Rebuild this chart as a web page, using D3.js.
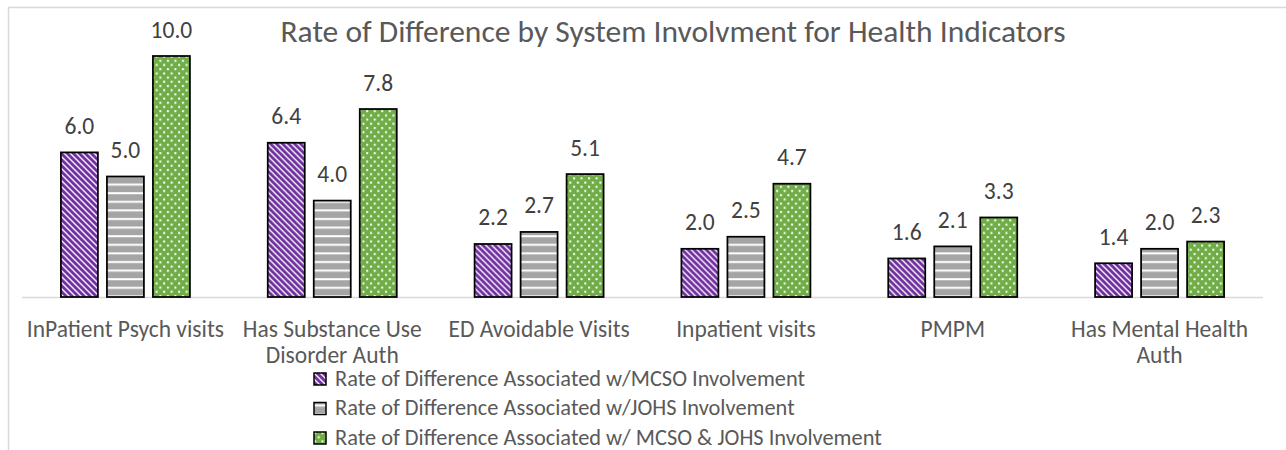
<!DOCTYPE html>
<html>
<head>
<meta charset="utf-8">
<script src="https://cdn.jsdelivr.net/npm/d3@7"></script>
<style>
  body { margin: 0; background: #fff; }
  text { font-family: Calibri, Carlito, Lato, sans-serif; }
</style>
</head>
<body>
<script>
const width = 1286;
const height = 450;

// data
const categories = ["InPatient Psych visits", "Has Substance Use Disorder Auth", "ED Avoidable Visits",
  "Inpatient visits", "PMPM", "Has Mental Health Auth"];
const seriesNames = [
  "Rate of Difference Associated w/MCSO Involvement",
  "Rate of Difference Associated w/JOHS Involvement",
  "Rate of Difference Associated w/ MCSO & JOHS Involvement"
];
const mcso = [6.0, 6.4, 2.2, 2.0, 1.6, 1.4];
const johs = [5.0, 4.0, 2.7, 2.5, 2.1, 2.0];
const both = [10.0, 7.8, 5.1, 4.7, 3.3, 2.3];
const seriesValues = [mcso, johs, both];

const svg = d3.select("body").append("svg")
  .attr("width", width)
  .attr("height", height);

const defs = svg.append("defs");

// fill patterns like the excel ones
const purple = defs.append("pattern").attr("id", "p0")
  .attr("patternUnits", "userSpaceOnUse").attr("width", 6).attr("height", 6);
purple.append("rect").attr("width", 6).attr("height", 6).attr("fill", "#7030A0");
purple.append("path").attr("d", "M-1,-1L7,7M-4,2L2,8M2,-4L8,2")
  .attr("stroke", "#fff").attr("stroke-width", 1.3);

const gray = defs.append("pattern").attr("id", "p1")
  .attr("patternUnits", "userSpaceOnUse").attr("width", 8).attr("height", 8.6);
gray.append("rect").attr("width", 8).attr("height", 8.6).attr("fill", "#A5A5A5");
gray.append("rect").attr("y", 3).attr("width", 8).attr("height", 2).attr("fill", "#fff");

const green = defs.append("pattern").attr("id", "p2")
  .attr("patternUnits", "userSpaceOnUse").attr("width", 7.5).attr("height", 8.4);
green.append("rect").attr("width", 7.5).attr("height", 8.4).attr("fill", "#70AD47");
green.append("rect").attr("x", 1).attr("y", 1).attr("width", 2).attr("height", 2).attr("fill", "#fff");
green.append("rect").attr("x", 4.75).attr("y", 5.2).attr("width", 2).attr("height", 2).attr("fill", "#fff");

// chart frame (only left and top visible)
svg.append("path")
  .attr("d", "M8.5,450V7.5H1286")
  .attr("fill", "none")
  .attr("stroke", "#D9D9D9")
  .attr("stroke-width", 1.5);

const baseY = 297;
const x0 = d3.scaleBand().domain(categories).range([22, 1263]).padding(0);
const groupW = 129;
const x1 = d3.scaleBand().domain(d3.range(3)).range([0, groupW]).paddingInner(0.196).paddingOuter(0);
const y = d3.scaleLinear().domain([0, 12]).range([baseY, baseY - 12 * 24.1]);

// title
svg.append("text")
  .attr("x", 673)
  .attr("y", 41.5)
  .attr("text-anchor", "middle")
  .attr("fill", "#595959")
  .attr("font-size", 31.5)
  .text("Rate of Difference by System Involvment for Health Indicators");

// axis line
svg.append("line")
  .attr("x1", x0.range()[0]).attr("x2", x0.range()[1])
  .attr("y1", baseY + 0.5).attr("y2", baseY + 0.5)
  .attr("stroke", "#D9D9D9").attr("stroke-width", 1.5);

const groups = svg.append("g").selectAll("g")
  .data(categories)
  .join("g")
  .attr("transform", d => `translate(${x0(d) + (x0.bandwidth() - groupW) / 2},0)`);

groups.selectAll("rect")
  .data((d, i) => seriesValues.map((s, k) => ({ k, v: s[i] })))
  .join("rect")
  .attr("x", d => x1(d.k))
  .attr("y", d => y(d.v))
  .attr("width", x1.bandwidth())
  .attr("height", d => y(0) - y(d.v))
  .attr("fill", d => `url(#p${d.k})`)
  .attr("stroke", "#000")
  .attr("stroke-width", 1.75);

groups.selectAll("text.val")
  .data((d, i) => seriesValues.map((s, k) => ({ k, v: s[i] })))
  .join("text")
  .attr("class", "val")
  .attr("x", d => x1(d.k) + x1.bandwidth() / 2)
  .attr("y", d => y(d.v) - 18.5)
  .attr("text-anchor", "middle")
  .attr("fill", "#404040")
  .attr("font-size", 23.5)
  .text(d => d.v.toFixed(1));

// category labels, wrapped to the band
const catLabels = svg.append("g").selectAll("text")
  .data(categories)
  .join("text")
  .attr("x", d => x0(d) + x0.bandwidth() / 2)
  .attr("y", 337)
  .attr("text-anchor", "middle")
  .attr("fill", "#595959")
  .attr("font-size", 23.5);

catLabels.each(function(d) {
  const t = d3.select(this);
  const words = d.split(" ");
  let line = [];
  let tspan = t.append("tspan").attr("x", t.attr("x")).attr("dy", 0);
  words.forEach(w => {
    line.push(w);
    tspan.text(line.join(" "));
    if (tspan.node().getComputedTextLength() > 206 && line.length > 1) {
      line.pop();
      tspan.text(line.join(" "));
      line = [w];
      tspan = t.append("tspan").attr("x", t.attr("x")).attr("dy", 26).text(w);
    }
  });
});

// legend
const legend = svg.append("g").selectAll("g")
  .data(seriesNames)
  .join("g")
  .attr("transform", (d, i) => `translate(313,${372 + i * 29.5})`);

legend.append("rect")
  .attr("x", 1).attr("y", 1)
  .attr("width", 12).attr("height", 12)
  .attr("fill", (d, i) => `url(#p${i})`)
  .attr("stroke", "#000")
  .attr("stroke-width", 1.5);

legend.append("text")
  .attr("x", 22)
  .attr("y", 13.5)
  .attr("fill", "#595959")
  .attr("font-size", 22.4)
  .text(d => d);
</script>
</body>
</html>
